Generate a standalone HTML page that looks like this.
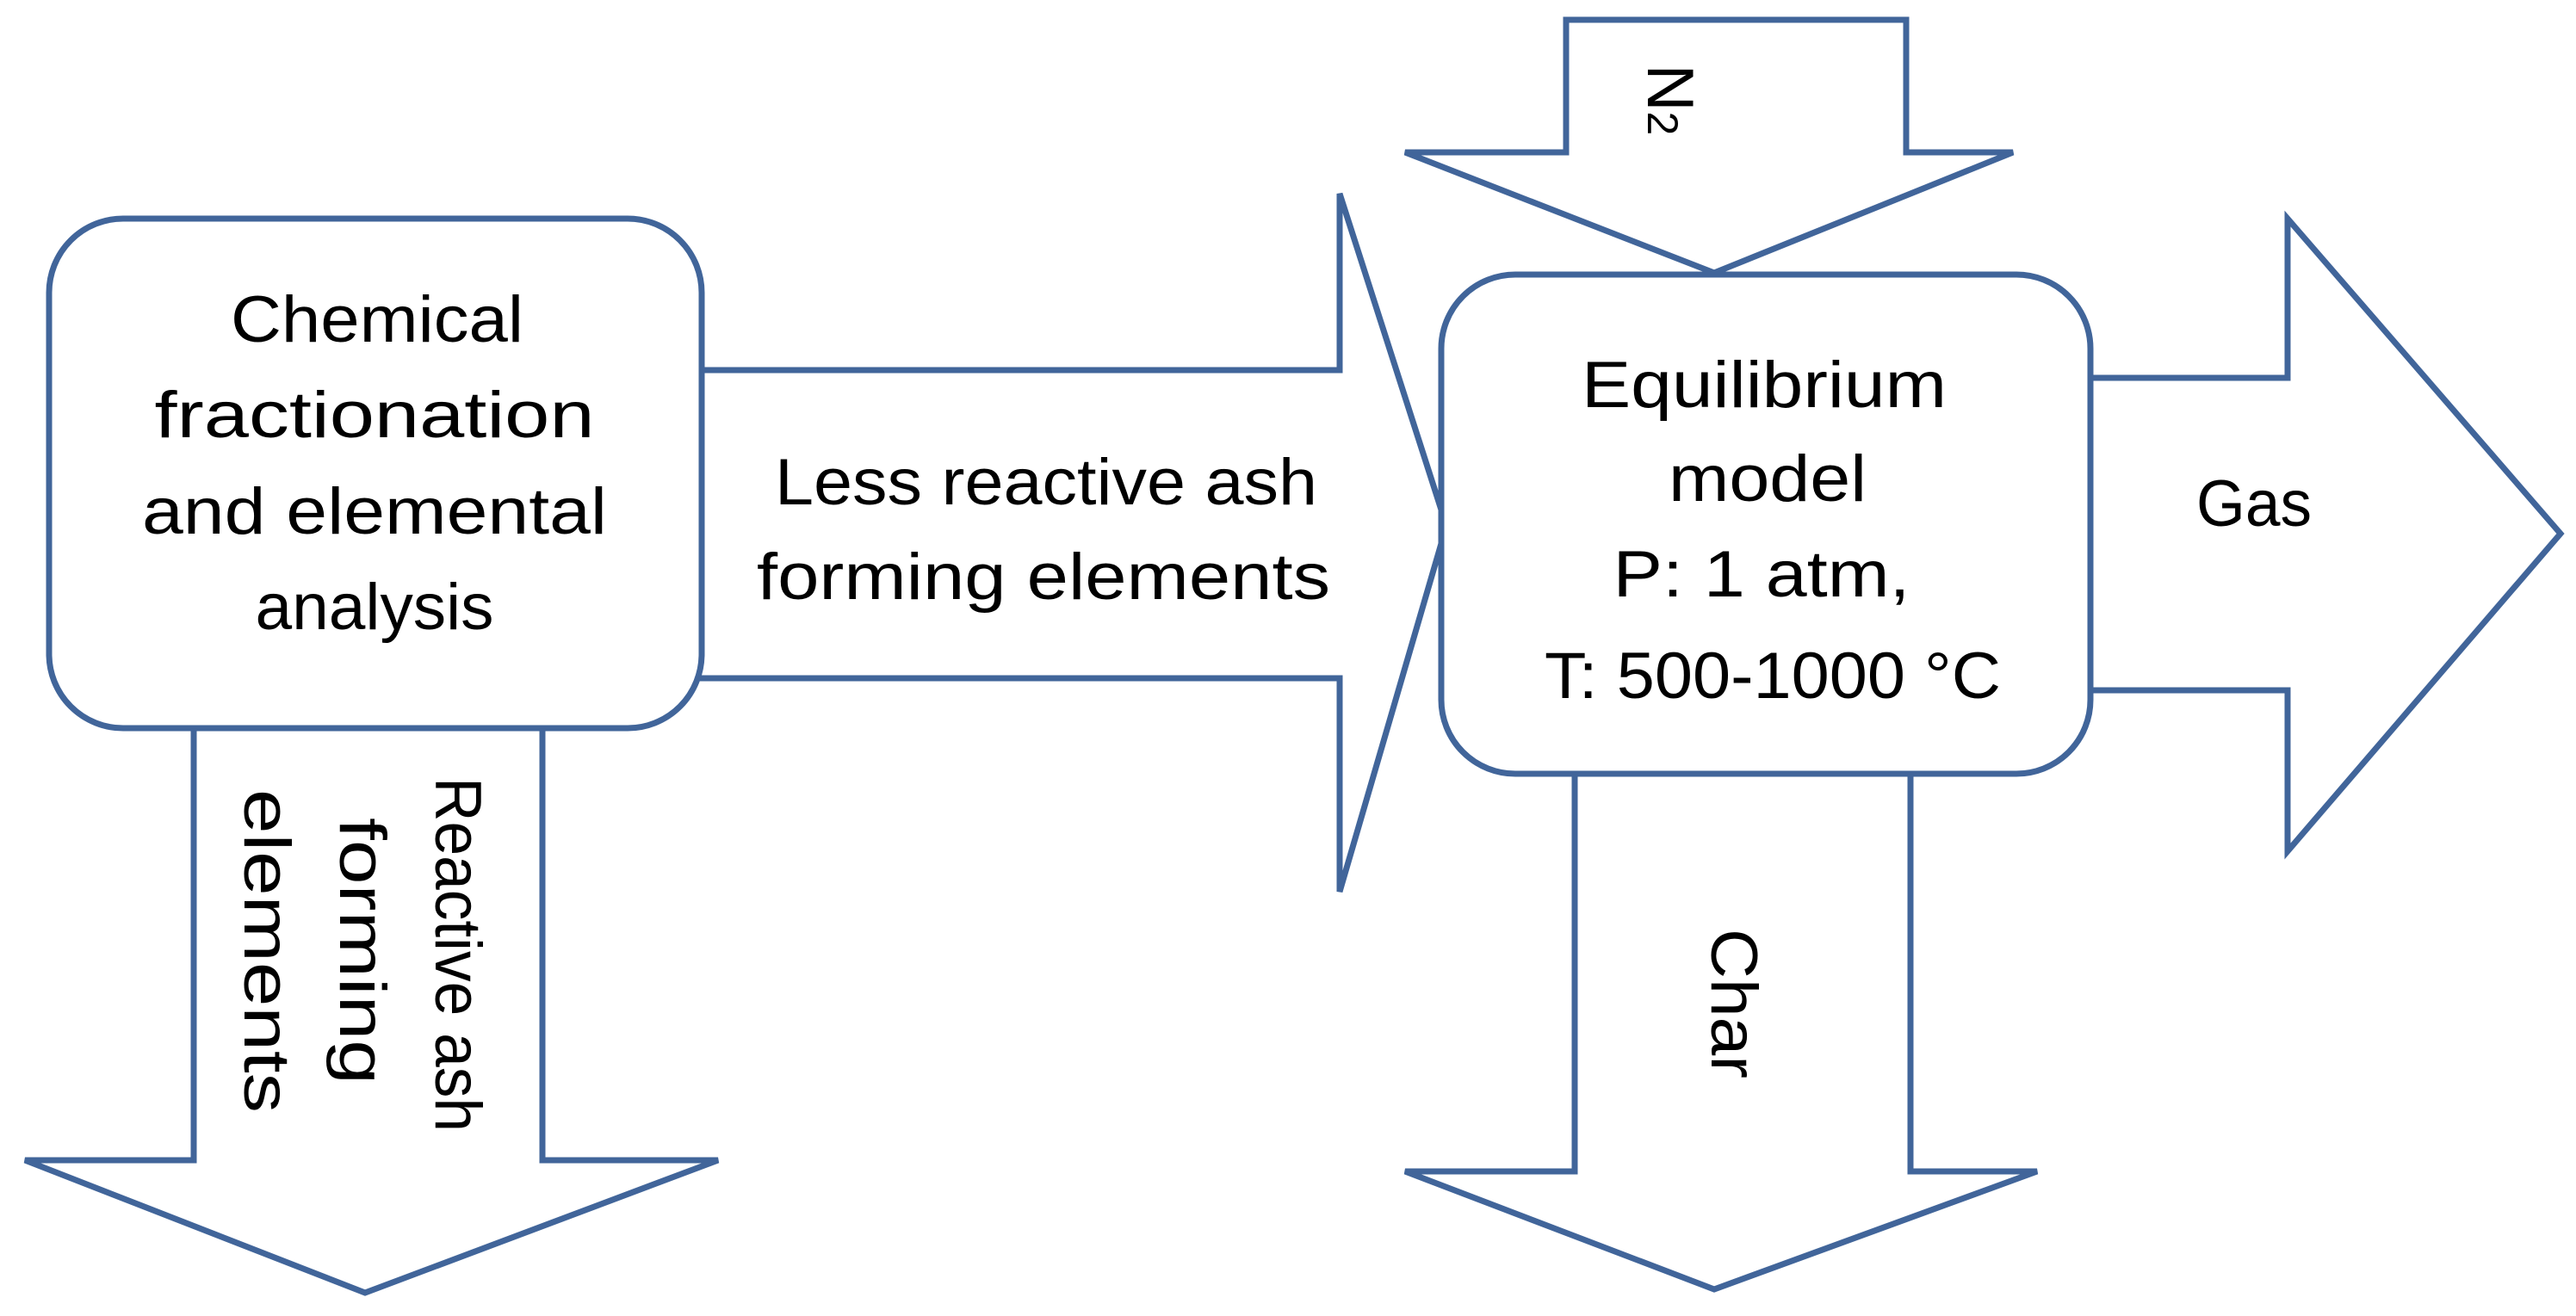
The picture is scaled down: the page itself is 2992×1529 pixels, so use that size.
<!DOCTYPE html>
<html><head><meta charset="utf-8"><style>
html,body{margin:0;padding:0;background:#fff;}
svg{display:block;}
text{font-family:"Liberation Sans",sans-serif;font-size:76px;fill:#000;}
</style></head><body>
<svg width="2992" height="1529" viewBox="0 0 2992 1529" xmlns="http://www.w3.org/2000/svg">
<g fill="#fff" stroke="#41659a" stroke-width="7" stroke-linejoin="miter">
<polygon points="800,430 1556,430 1556,225 1680,611 1556,1036 1556,788 800,788"/>
<polygon points="225,830 630,830 630,1348 834,1348 424,1502 29,1348 225,1348"/>
<rect x="57" y="254" width="758" height="592" rx="86" ry="86"/>
<polygon points="1819,23 2214,23 2214,177 2338,177 1991,317 1632,177 1819,177"/>
<polygon points="2410,439 2657,439 2657,254 2974,620 2657,989 2657,802 2410,802"/>
<polygon points="1829,880 2219,880 2219,1361 2366,1361 1991,1498 1632,1361 1829,1361"/>
<rect x="1674" y="319" width="754" height="580" rx="86" ry="86"/>
</g>
<g text-anchor="middle">
<text x="438" y="397" textLength="340" lengthAdjust="spacingAndGlyphs">Chemical</text>
<text x="435" y="508" textLength="511" lengthAdjust="spacingAndGlyphs">fractionation</text>
<text x="435" y="620" textLength="540" lengthAdjust="spacingAndGlyphs">and elemental</text>
<text x="435" y="731" textLength="277" lengthAdjust="spacingAndGlyphs">analysis</text>
<text x="1215" y="586" textLength="630" lengthAdjust="spacingAndGlyphs">Less reactive ash</text>
<text x="1212" y="696" textLength="666" lengthAdjust="spacingAndGlyphs">forming elements</text>
<text x="2049" y="473" textLength="424" lengthAdjust="spacingAndGlyphs">Equilibrium</text>
<text x="2053" y="582" textLength="230" lengthAdjust="spacingAndGlyphs">model</text>
<text x="2046" y="693" textLength="345" lengthAdjust="spacingAndGlyphs">P: 1 atm,</text>
<text x="2059" y="811" textLength="530" lengthAdjust="spacingAndGlyphs">T: 500-1000 °C</text>
<text x="2618" y="611" textLength="134" lengthAdjust="spacingAndGlyphs">Gas</text>
<text transform="translate(1988,1166) rotate(90)" textLength="174" lengthAdjust="spacingAndGlyphs">Char</text>
<text transform="translate(1914,116) rotate(90)">N<tspan font-size="50">2</tspan></text>
<text transform="translate(506,1109) rotate(90)" textLength="412" lengthAdjust="spacingAndGlyphs">Reactive ash</text>
<text transform="translate(395,1105) rotate(90)" textLength="310" lengthAdjust="spacingAndGlyphs">forming</text>
<text transform="translate(284,1105) rotate(90)" textLength="376" lengthAdjust="spacingAndGlyphs">elements</text>
</g>
</svg>
</body></html>
